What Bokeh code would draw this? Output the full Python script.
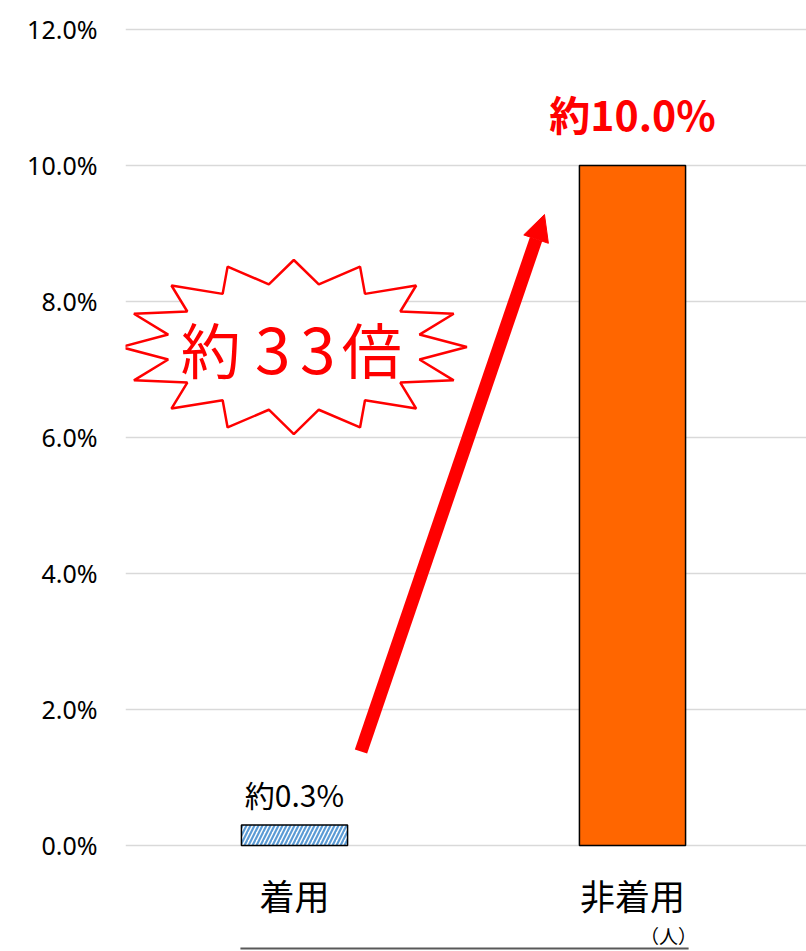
import numpy as np
from bokeh.plotting import figure
from bokeh.models import Range1d, FixedTicker, PrintfTickFormatter, Arrow, NormalHead
from bokeh.core.properties import value
from bokeh.embed import file_html
from bokeh.resources import INLINE

# ---- data ----
categories = ["着用", "非着用"]
rates = [0.3, 10.0]          # percent
y_ticks = [0, 2, 4, 6, 8, 10, 12]
unit_note = "（人）"

JP = "Noto Sans CJK JP"
LAT = "Noto Sans"

xs = [i + 0.5 for i in range(len(categories))]
bar_w = 0.314

p = figure(width=806, height=951, output_backend="svg", toolbar_location=None,
           x_range=Range1d(0, 2.0148), y_range=Range1d(-1.559, 12.426),
           x_axis_location=None,
           min_border_left=125, min_border_right=0, min_border_top=0, min_border_bottom=0)
p.outline_line_color = None
p.background_fill_color = "white"
p.border_fill_color = "white"
p.xgrid.visible = False
p.ygrid.ticker = FixedTicker(ticks=y_ticks)
p.ygrid.grid_line_color = "#D9D9D9"
p.ygrid.grid_line_width = 1.5

ax = p.yaxis[0]
ax.ticker = FixedTicker(ticks=y_ticks)
ax.formatter = PrintfTickFormatter(format="%.1f%%")
ax.axis_line_color = None
ax.major_tick_line_color = None
ax.minor_tick_line_color = None
ax.major_tick_in = 0
ax.major_tick_out = 0
ax.major_label_standoff = 28
ax.major_label_text_font = LAT
ax.major_label_text_font_size = "25px"
ax.major_label_text_color = "#000000"

# ---- bars ----
p.vbar(x=[xs[0]], top=[rates[0]], bottom=0, width=bar_w,
       fill_color="white", line_color="black", line_width=1.5,
       hatch_pattern="/", hatch_color="#5B9BD5", hatch_scale=8, hatch_weight=2.2)
p.vbar(x=[xs[1]], top=[rates[1]], bottom=0, width=bar_w,
       fill_color="#FF6600", line_color="black", line_width=1.5)

# ---- value labels ----
p.text(x=[xs[0]], y=[rates[0]], text=[f"約{rates[0]:.1f}%"],
       text_align="center", text_baseline="middle", y_offset=-31,
       text_font=value(JP), text_font_size="30px", text_color="#000000")
p.text(x=[xs[1]], y=[rates[1]], text=[f"約{rates[1]:.1f}%"],
       text_align="center", text_baseline="middle", y_offset=-52,
       text_font=value(JP), text_font_size="41px", text_font_style="bold",
       text_color="#FF0000")

# ---- category labels ----
p.text(x=xs, y=[0] * len(xs), text=categories,
       text_align="center", text_baseline="middle", y_offset=49,
       text_font=value(JP), text_font_size="35px", text_color="#000000")
p.text(x=[xs[1]], y=[0], text=[unit_note],
       text_align="center", text_baseline="middle", x_offset=36, y_offset=90,
       text_font=value(JP), text_font_size="19px", text_color="#000000")
p.segment(x0=[0.34], y0=[-1.515], x1=[1.666], y1=[-1.515],
          line_color="#595959", line_width=2)

# ---- starburst callout ----
star_cx, star_cy = 0.498, 7.33
outer_rx, outer_ry = 0.512, 1.28
inner_rx, inner_ry = 0.379, 0.94
k = np.arange(32)
ang = np.pi / 2 - k * np.pi / 16
rx = np.where(k % 2 == 0, outer_rx, inner_rx)
ry = np.where(k % 2 == 0, outer_ry, inner_ry)
p.patch(star_cx + rx * np.cos(ang), star_cy + ry * np.sin(ang),
        fill_color="white", line_color="#FF0000", line_width=2.5)
ratio = round(rates[1] / rates[0])
callout = list("約" + str(ratio) + "倍")
p.text(x=[star_cx] * len(callout), y=[star_cy] * len(callout), text=callout,
       x_offset=[-83, -21, 24, 78], y_offset=[0, 3, 3, 0],
       text_font_size=["60px", "64px", "64px", "60px"],
       text_align="center", text_baseline="middle",
       text_font=value(JP), text_color="#FF0000")

# ---- arrow ----
p.add_layout(Arrow(x_start=0.6967, y_start=1.382, x_end=1.2396, y_end=9.279,
                   line_color="#FF0000", line_width=13,
                   end=NormalHead(size=26, fill_color="#FF0000", line_color="#FF0000")))

open("out.html", "w").write(file_html(p, INLINE))
